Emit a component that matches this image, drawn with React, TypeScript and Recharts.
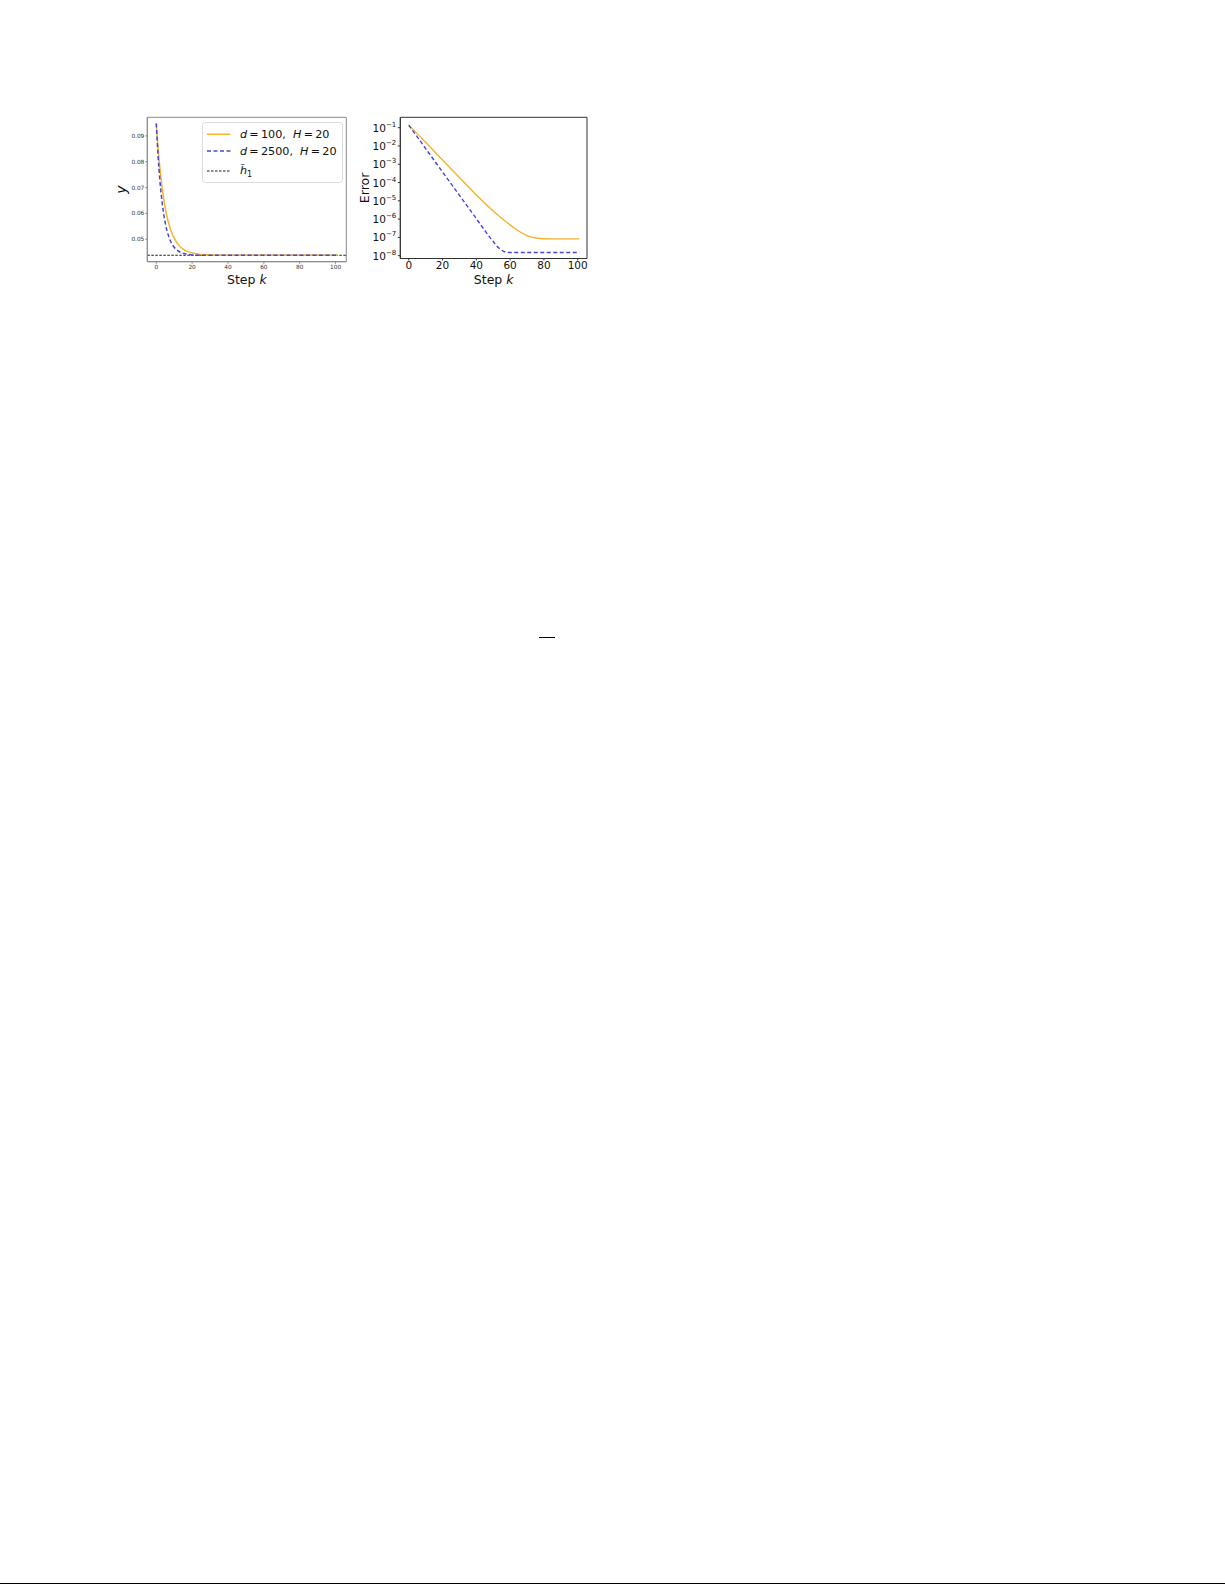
import React from 'react';
import { LineChart, Line, XAxis, YAxis, ReferenceLine, ReferenceArea, Legend, Label } from 'recharts';

// left panel: y vs step k
const leftSteps = [0, 1, 2, 3, 4, 5, 6, 7, 8, 10, 12, 14, 16, 18, 20, 25, 30, 40, 60, 80, 101];
const leftD100 = [0.0948, 0.0854, 0.0777, 0.0714, 0.0663, 0.0621, 0.0587, 0.056, 0.0537, 0.0504, 0.0482, 0.0467, 0.0457, 0.0451, 0.0447, 0.0441, 0.0439, 0.0438, 0.0438, 0.0438, 0.0438];
const leftD2500 = [0.0948, 0.0823, 0.0729, 0.0658, 0.0604, 0.0563, 0.0533, 0.051, 0.0492, 0.0469, 0.0456, 0.0448, 0.0444, 0.0441, 0.0439, 0.0438, 0.0438, 0.0438, 0.0438, 0.0438, 0.0438];
const hTilde1 = 0.0438;
const leftYTicks = [0.05, 0.06, 0.07, 0.08, 0.09];
const stepTicks = [0, 20, 40, 60, 80, 100];

// right panel: error (log) vs step k
const rightD100Steps = [0, 10, 20, 30, 40, 50, 55, 60, 65, 70, 75, 80, 90, 101];
const rightD100Err = [1.38e-1, 1.58e-2, 1.7e-3, 1.91e-4, 2.09e-5, 2.8e-6, 1.12e-6, 4.8e-7, 2.24e-7, 1.26e-7, 9.3e-8, 8.5e-8, 8.3e-8, 8.3e-8];
const rightD2500Steps = [0, 10, 20, 30, 40, 45, 48, 50, 52, 54, 56, 58, 60, 80, 101];
const rightD2500Err = [1.38e-1, 7.2e-3, 3.8e-4, 2.0e-5, 1.05e-6, 2.4e-7, 1.0e-7, 6.0e-8, 3.5e-8, 2.35e-8, 1.74e-8, 1.55e-8, 1.5e-8, 1.5e-8, 1.5e-8];
const errorTicks = [1e-1, 1e-2, 1e-3, 1e-4, 1e-5, 1e-6, 1e-7, 1e-8];

const ORANGE = '#f6b22c';
const BLUE = '#4545d8';
const FONT = '"DejaVu Sans", sans-serif';

const LEFT_X: [number, number] = [-5, 106];
const LEFT_Y: [number, number] = [0.0413, 0.0972];
const RIGHT_X: [number, number] = [-5, 105.5];
const RIGHT_Y: [number, number] = [7e-9, 0.37];

const leftData = leftSteps.map((k, i) => ({ k, d100: leftD100[i], d2500: leftD2500[i] }));
const rightD100 = rightD100Steps.map((k, i) => ({ k, err: rightD100Err[i] }));
const rightD2500 = rightD2500Steps.map((k, i) => ({ k, err: rightD2500Err[i] }));

const StepLabel = (props: any) => {
  const vb = props.viewBox;
  return (
    <text x={vb.x + vb.width / 2} y={vb.y + vb.height - 10.7} textAnchor="middle" fontSize={12.5} fontFamily={FONT} fill="#111">
      Step <tspan fontStyle="italic">k</tspan>
    </text>
  );
};

const PowerTick = ({ x, y, payload }: any) => {
  const exp = Math.round(Math.log10(payload.value));
  return (
    <text x={x} y={y} dy={4} textAnchor="end" fontSize={10.5} fontFamily={FONT} fill="#111">
      10<tspan dy={-5} fontSize={7}>{'\u2212' + Math.abs(exp)}</tspan>
    </text>
  );
};

const LegendBox = () => (
  <svg width={141} height={61} style={{ display: 'block' }}>
    <rect x={0.5} y={0.5} width={140} height={60} rx={3} fill="#fff" fillOpacity={0.8} stroke="#dcdcdc" />
    <line x1={5} x2={28.4} y1={12.3} y2={12.3} stroke={ORANGE} strokeWidth={1.5} />
    <line x1={5} x2={28.4} y1={29} y2={29} stroke={BLUE} strokeWidth={1.5} strokeDasharray="4 2.5" />
    <line x1={5} x2={28.4} y1={49} y2={49} stroke="#000" strokeWidth={0.9} strokeDasharray="2.5 1.5" />
    <text x={38} y={16.3} fontSize={11.2} fontFamily={FONT} fill="#111">
      <tspan fontStyle="italic">d</tspan>{'\u2009=\u2009100,\u00a0\u00a0'}<tspan fontStyle="italic">H</tspan>{'\u2009=\u200920'}
    </text>
    <text x={38} y={33} fontSize={11.2} fontFamily={FONT} fill="#111">
      <tspan fontStyle="italic">d</tspan>{'\u2009=\u20092500,\u00a0\u00a0'}<tspan fontStyle="italic">H</tspan>{'\u2009=\u200920'}
    </text>
    <text x={38} y={52} fontSize={11.2} fontFamily={FONT} fill="#111">
      <tspan fontStyle="italic">{'h\u0303'}</tspan>
      <tspan dy={3} fontSize={8}>1</tspan>
    </text>
  </svg>
);

const App: React.FC = () => {
  return (
    <div style={{ position: 'absolute', left: 0, top: 0, width: 1225, height: 1585, background: '#fff', fontFamily: FONT }}>
      <div style={{ position: 'absolute', left: 100, top: 100 }}>
        <LineChart width={260} height={195} data={leftData} margin={{ top: 17.3, right: 13.7, bottom: 0, left: 0 }}>
          <XAxis
            dataKey="k"
            type="number"
            domain={LEFT_X}
            ticks={stepTicks}
            interval={0}
            allowDataOverflow
            height={33.3}
            tickSize={2}
            tickMargin={1}
            stroke="#8a8a8a"
            tick={{ fontSize: 5.8, fill: '#333', fontFamily: FONT }}
          >
            <Label content={<StepLabel />} />
          </XAxis>
          <YAxis
            type="number"
            domain={LEFT_Y}
            ticks={leftYTicks}
            interval={0}
            allowDataOverflow
            width={47.3}
            tickSize={2}
            tickMargin={1}
            stroke="#8a8a8a"
            tickFormatter={(v: number) => v.toFixed(2)}
            tick={{ fontSize: 5.8, fill: '#333', fontFamily: FONT }}
          >
            <Label
              content={(props: any) => {
                const vb = props.viewBox;
                const cy = vb.y + vb.height / 2;
                return (
                  <text x={26.2} y={cy} transform={`rotate(-90, 26.2, ${cy})`} textAnchor="middle" fontSize={14} fontStyle="italic" fontFamily={FONT} fill="#111">
                    y
                  </text>
                );
              }}
            />
          </YAxis>
          <ReferenceArea x1={LEFT_X[0]} x2={LEFT_X[1]} y1={LEFT_Y[0]} y2={LEFT_Y[1]} fill="none" stroke="#8a8a8a" strokeWidth={1} ifOverflow="visible" />
          <ReferenceLine y={hTilde1} stroke="#000" strokeWidth={0.9} strokeDasharray="2.5 1.5" />
          <Line dataKey="d100" type="monotone" stroke={ORANGE} strokeWidth={1.5} dot={false} isAnimationActive={false} />
          <Line dataKey="d2500" type="monotone" stroke={BLUE} strokeWidth={1.5} strokeDasharray="4 2.5" dot={false} isAnimationActive={false} />
          <Legend
            layout="horizontal"
            verticalAlign="middle"
            align="center"
            content={() => <LegendBox />}
            wrapperStyle={{ left: 102.3, top: 21.7, width: 141, height: 61 }}
          />
        </LineChart>
      </div>

      <div style={{ position: 'absolute', left: 350, top: 100 }}>
        <LineChart width={245} height={195} margin={{ top: 17.3, right: 8, bottom: 0, left: 0 }}>
          <XAxis
            dataKey="k"
            type="number"
            domain={RIGHT_X}
            ticks={stepTicks}
            interval={0}
            allowDataOverflow
            height={36.5}
            tickSize={2}
            tickMargin={1}
            stroke="#333"
            tick={{ fontSize: 10.5, fill: '#111', fontFamily: FONT }}
          >
            <Label content={<StepLabel />} />
          </XAxis>
          <YAxis
            dataKey="err"
            type="number"
            scale="log"
            domain={RIGHT_Y}
            ticks={errorTicks}
            interval={0}
            allowDataOverflow
            width={50.3}
            tickSize={2.5}
            tickMargin={1.5}
            stroke="#333"
            tick={<PowerTick />}
          >
            <Label
              content={(props: any) => {
                const vb = props.viewBox;
                const cy = vb.y + vb.height / 2;
                return (
                  <text x={19} y={cy} transform={`rotate(-90, 19, ${cy})`} textAnchor="middle" fontSize={12.5} fontFamily={FONT} fill="#111">
                    Error
                  </text>
                );
              }}
            />
          </YAxis>
          <ReferenceArea x1={RIGHT_X[0]} x2={RIGHT_X[1]} y1={RIGHT_Y[0]} y2={RIGHT_Y[1]} fill="none" stroke="#333" strokeWidth={1} ifOverflow="visible" />
          <Line data={rightD100} dataKey="err" type="monotone" stroke={ORANGE} strokeWidth={1.4} dot={false} isAnimationActive={false} />
          <Line data={rightD2500} dataKey="err" type="monotone" stroke={BLUE} strokeWidth={1.4} strokeDasharray="4 2.5" dot={false} isAnimationActive={false} />
        </LineChart>
      </div>

      <div style={{ position: 'absolute', left: 539, top: 636.5, width: 16, height: 1.5, background: '#000' }} />
      <div style={{ position: 'absolute', left: 0, top: 1583, width: 1225, height: 1, background: '#000' }} />
    </div>
  );
};

export default App;
